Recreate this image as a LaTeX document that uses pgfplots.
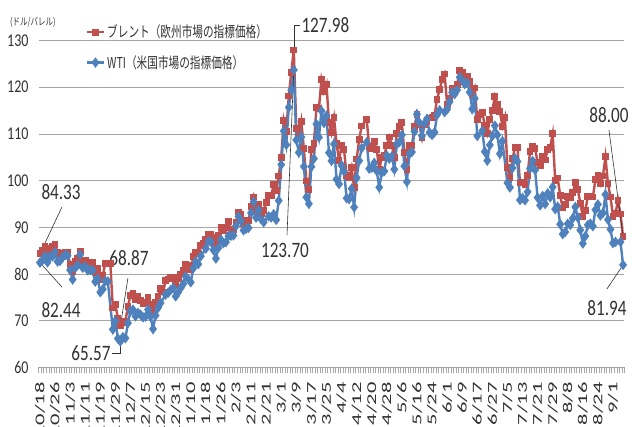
\documentclass[border=0pt]{standalone}
\usepackage{pgfplots}
\usepackage{pgfplotstable}
\pgfplotsset{compat=1.18}
\usepackage{fontspec}
\setmainfont[FakeStretch=0.78]{Carlito}
\newfontfamily\xl{Carlito}
\newfontfamily\jp[FakeStretch=0.71]{Noto Sans CJK JP}
\newfontfamily\jpu[FakeStretch=0.75]{Noto Sans CJK JP}
\definecolor{brent}{RGB}{192,80,77}
\definecolor{wti}{RGB}{79,129,189}
\definecolor{txt}{RGB}{50,50,50}
\definecolor{gridc}{RGB}{166,166,166}
\newcommand\sq[1]{\scalebox{1}[0.6]{#1}}

\pgfplotstableread{
x y
0 84.33
1 85.08
2 85.82
3 84.61
4 85.53
5 85.99
6 86.40
7 84.58
8 84.32
9 84.38
10 84.71
11 84.72
12 81.99
13 80.54
14 82.74
15 83.43
16 84.78
17 82.64
18 82.87
19 82.17
20 82.05
21 82.43
22 80.28
23 81.24
24 78.89
25 79.70
26 82.31
27 82.25
28 82.22
29 72.72
30 73.44
31 70.57
32 68.87
33 69.67
34 69.88
35 73.08
36 75.44
37 75.82
38 74.42
39 75.15
40 74.39
41 73.70
42 73.88
43 75.02
44 73.52
45 71.52
46 73.98
47 75.29
48 76.85
49 76.14
50 78.60
51 78.94
52 79.23
53 79.32
54 77.78
55 78.98
56 80.00
57 80.80
58 81.99
59 81.75
60 80.87
61 83.72
62 84.67
63 84.47
64 86.06
65 86.48
66 87.51
67 88.44
68 88.38
69 87.89
70 86.27
71 88.20
72 89.96
73 89.34
74 90.03
75 91.21
76 89.16
77 89.47
78 91.11
79 93.27
80 92.69
81 90.78
82 91.55
83 91.41
84 94.44
85 96.48
86 93.28
87 94.81
88 92.97
89 93.54
90 95.39
91 96.84
92 96.84
93 99.08
94 97.93
95 100.99
96 104.97
97 112.93
98 110.46
99 118.11
100 123.21
101 127.98
102 111.14
103 109.33
104 112.67
105 106.90
106 99.91
107 98.02
108 106.64
109 107.93
110 115.62
111 115.48
112 121.60
113 119.03
114 120.65
115 112.48
116 110.23
117 113.45
118 107.91
119 104.39
120 107.53
121 106.64
122 101.07
123 100.58
124 102.78
125 98.48
126 104.64
127 108.78
128 111.70
130 113.16
131 107.25
132 106.80
133 108.33
134 106.65
135 102.32
136 104.99
137 105.32
138 107.59
139 109.34
140 107.58
141 104.97
142 110.14
143 111.55
144 112.39
145 105.94
146 102.46
147 107.51
148 107.45
149 111.55
150 114.24
151 111.93
152 109.11
153 112.04
154 112.55
155 113.42
156 113.56
157 114.03
158 117.40
159 119.43
160 121.67
161 122.84
162 116.29
163 117.61
164 119.72
165 119.51
166 120.57
167 123.58
168 123.07
169 122.01
170 122.27
171 121.17
172 118.51
173 119.81
174 113.12
175 114.13
176 114.65
177 111.74
178 110.05
179 113.12
180 115.09
181 117.98
182 116.26
183 114.81
184 111.63
185 113.50
186 102.77
187 100.69
188 104.65
189 107.02
190 107.10
191 99.49
192 99.57
193 99.10
194 101.16
195 106.27
196 107.35
197 106.92
198 103.86
199 103.20
200 105.15
201 104.40
202 106.62
203 107.14
204 110.01
205 100.03
206 100.54
207 96.78
208 94.12
209 94.92
210 96.65
211 96.31
212 97.40
213 99.60
214 98.15
215 95.10
216 92.34
217 93.65
218 96.59
219 96.72
220 96.48
221 100.22
222 101.22
223 99.34
224 100.99
225 105.09
226 99.31
227 96.49
228 92.36
229 93.02
230 95.74
231 92.83
232 88.00
}\brenttab

\pgfplotstableread{
x y
0 82.44
1 82.96
2 83.87
3 82.50
4 83.76
5 83.76
6 84.65
7 82.66
8 82.81
9 83.57
10 84.05
11 83.91
12 80.86
13 78.81
14 81.27
15 81.93
16 84.15
17 81.34
18 81.59
19 80.79
20 80.88
21 80.76
22 78.36
23 79.01
24 76.10
25 76.75
26 78.50
27 78.39
29 68.15
30 69.95
31 66.18
32 65.57
33 66.50
34 66.26
35 69.49
36 72.05
37 72.36
38 70.94
39 71.67
40 71.29
41 70.73
42 70.87
43 72.38
44 70.86
45 68.23
46 71.12
47 72.76
48 73.79
50 75.57
51 75.98
52 76.56
53 76.99
54 75.21
55 76.08
56 76.99
57 77.85
58 79.46
59 78.90
60 78.23
61 81.22
62 82.64
63 82.12
64 83.82
66 85.43
67 86.96
68 86.90
69 85.14
70 83.31
71 85.60
72 87.35
73 86.61
74 86.82
75 88.15
76 88.20
77 88.26
78 90.27
79 92.31
80 91.32
81 89.36
82 89.66
83 89.88
84 93.10
85 95.46
86 92.07
87 93.66
88 91.76
89 91.07
91 92.35
92 92.10
93 92.81
94 91.59
95 95.72
96 103.41
97 110.60
98 107.67
99 115.68
100 119.40
101 123.70
102 108.70
103 106.02
104 109.33
105 103.01
106 96.44
107 95.04
108 102.98
109 104.70
110 112.12
111 109.27
112 114.93
113 112.34
114 113.90
115 105.96
116 104.24
117 107.82
118 100.28
119 99.27
120 103.28
121 101.96
122 96.23
123 96.03
124 98.26
125 94.29
126 100.60
127 104.25
128 106.95
130 108.21
131 102.56
132 102.75
133 103.79
134 102.07
135 98.54
136 101.70
137 102.02
138 105.36
139 104.69
140 105.17
141 102.41
142 107.81
143 108.26
144 109.77
145 103.09
146 99.76
147 105.71
148 106.13
149 110.49
150 114.20
151 112.40
152 109.59
153 112.21
154 113.23
155 110.29
156 109.77
157 110.33
158 114.09
159 115.07
161 114.67
162 115.26
163 116.87
164 118.87
165 118.50
166 119.41
167 122.11
168 121.51
169 120.67
170 120.93
171 118.93
172 115.31
173 117.59
174 109.56
176 110.65
177 106.19
178 104.27
179 107.62
180 109.57
181 111.76
182 109.78
183 105.76
184 108.43
186 99.50
187 98.53
188 102.73
189 104.79
190 104.09
191 95.84
192 96.30
193 95.78
194 97.59
195 102.60
196 104.22
197 102.26
198 96.35
199 94.70
200 96.70
201 94.98
202 97.26
203 96.42
204 98.62
205 93.89
206 94.42
207 90.66
208 88.54
209 89.01
210 90.76
211 90.50
212 91.93
213 94.34
214 92.09
215 89.41
216 86.53
217 88.11
218 90.50
219 90.77
220 90.23
221 93.74
222 94.89
223 92.52
224 93.06
225 97.01
226 91.64
227 89.55
228 86.61
229 86.87
231 86.88
232 81.94
}\wtitab

\begin{document}
\begin{tikzpicture}
\begin{axis}[
  scale only axis,
  width=585.6pt, height=326.9pt,
  xmin=-0.5, xmax=232.5,
  ymin=60, ymax=130,
  ytick={60,70,...,130},
  xtick={0,6,...,228},
  xticklabels={\sq{10/18},\sq{10/26},\sq{11/3},\sq{11/11},\sq{11/19},\sq{11/29},\sq{12/7},\sq{12/15},\sq{12/23},\sq{12/31},\sq{1/10},\sq{1/18},\sq{1/26},\sq{2/3},\sq{2/11},\sq{2/21},\sq{3/1},\sq{3/9},\sq{3/17},\sq{3/25},\sq{4/4},\sq{4/12},\sq{4/20},\sq{4/28},\sq{5/6},\sq{5/16},\sq{5/24},\sq{6/1},\sq{6/9},\sq{6/17},\sq{6/27},\sq{7/5},\sq{7/13},\sq{7/21},\sq{7/29},\sq{8/8},\sq{8/16},\sq{8/24},\sq{9/1}},
  minor xtick={-0.5,0.5,...,232.5},
  major tick length=0pt,
  minor tick length=6pt,
  tick align=outside,
  axis x line*=bottom,
  axis y line*=left,
  y axis line style={draw=none},
  x axis line style={draw=gridc, line width=0.8pt},
  minor x tick style={draw=gridc, line width=0.5pt},
  ymajorgrids,
  grid style={draw=gridc, line width=0.8pt},
  /pgf/number format/assume math mode=true,
  yticklabel style={font=\fontsize{18}{20}\selectfont, text=txt, anchor=east, inner sep=0pt, xshift=-10pt},
  xticklabel style={font=\fontsize{22.5}{23}\xl, text=txt, yshift=-14.6pt, rotate=90, anchor=east, inner sep=0pt},
  clip=false,
  legend style={at={(axis description cs:0.080,1.054)}, anchor=north west, draw=none, fill=none,
    font=\fontsize{15}{16}\jp, text=txt, row sep=12pt, inner sep=0pt},
  legend cell align=left,
]
\addplot[brent, line width=2.4pt, mark=square*, mark size=2.2pt, mark options={solid}] table[x=x,y=y]{\brenttab};
\addlegendentry{ブレント（欧州市場の指標価格）}
\addplot[wti, line width=2.4pt, mark=diamond*, mark size=3.3pt, mark options={solid}] table[x=x,y=y]{\wtitab};
\addlegendentry{WTI（米国市場の指標価格）}

\begin{scope}[every node/.style={font=\fontsize{22}{24}\selectfont, text=txt, inner sep=0pt}]
\draw[txt, line width=0.6pt] (axis cs:0,84.33) -- (axis cs:8.75,94.35);
\node at (axis cs:8.4,97.56) {84.33};
\draw[txt, line width=0.6pt] (axis cs:0,82.44) -- (axis cs:8.75,77.2);
\node at (axis cs:8.4,72.3) {82.44};
\draw[txt, line width=0.6pt] (axis cs:32,68.87) -- (axis cs:35.0,79.1);
\node at (axis cs:35.4,83.4) {68.87};
\draw[txt, line width=0.6pt] (axis cs:28.7,63.1) -| (axis cs:32,65.57);
\node at (axis cs:20.3,63.1) {65.57};
\draw[txt, line width=0.6pt] (axis cs:101,127.98) |- (axis cs:103.3,133.3);
\node[anchor=west] at (axis cs:104.0,133.3) {127.98};
\draw[txt, line width=0.6pt] (axis cs:101,123.70) -- (axis cs:98.3,88.35);
\node at (axis cs:97.5,85.1) {123.70};
\draw[txt, line width=0.6pt] (axis cs:232,88.00) -- (axis cs:226.4,110.8);
\node at (axis cs:226.4,114.05) {88.00};
\draw[txt, line width=0.6pt] (axis cs:232,81.94) -- (axis cs:225.6,76.8);
\node at (axis cs:225.6,72.7) {81.94};
\node[font=\fontsize{10}{11}\jpu] at (axis cs:-2.8,133.96) {(ドル/バレル)};
\end{scope}
\end{axis}
\pgfresetboundingbox
\useasboundingbox (-38.7pt,-58.6pt) rectangle (593.3pt,367.4pt);
\end{tikzpicture}
\end{document}
